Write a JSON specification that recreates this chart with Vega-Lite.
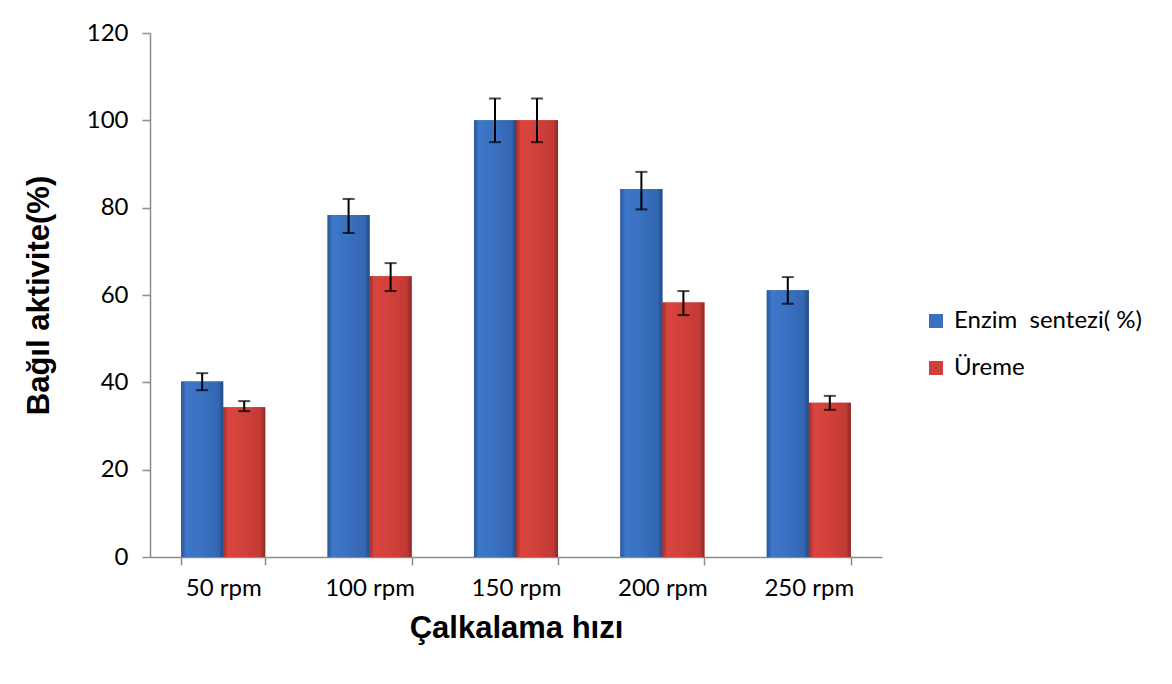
{
  "$schema": "https://vega.github.io/schema/vega-lite/v6.json",
  "width": 732,
  "height": 524,
  "autosize": "none",
  "padding": {"left": 150, "top": 33, "right": 290, "bottom": 127},
  "background": "white",
  "config": {
    "view": {"stroke": null},
    "font": "Lato"
  },
  "data": {
    "values": [
      {"rpm": "50 rpm", "series": "Enzim  sentezi( %)", "value": 40.2, "lo": 38.2, "hi": 42.1},
      {"rpm": "50 rpm", "series": "Üreme", "value": 34.3, "lo": 33.4, "hi": 35.7},
      {"rpm": "100 rpm", "series": "Enzim  sentezi( %)", "value": 78.3, "lo": 74.2, "hi": 82.0},
      {"rpm": "100 rpm", "series": "Üreme", "value": 64.3, "lo": 60.9, "hi": 67.3},
      {"rpm": "150 rpm", "series": "Enzim  sentezi( %)", "value": 100, "lo": 95, "hi": 105},
      {"rpm": "150 rpm", "series": "Üreme", "value": 100, "lo": 95, "hi": 105},
      {"rpm": "200 rpm", "series": "Enzim  sentezi( %)", "value": 84.3, "lo": 79.6, "hi": 88.2},
      {"rpm": "200 rpm", "series": "Üreme", "value": 58.3, "lo": 55.4, "hi": 60.9},
      {"rpm": "250 rpm", "series": "Enzim  sentezi( %)", "value": 61.1, "lo": 58.0, "hi": 64.1},
      {"rpm": "250 rpm", "series": "Üreme", "value": 35.3, "lo": 33.7, "hi": 36.9}
    ]
  },
  "encoding": {
    "x": {
      "field": "rpm",
      "type": "nominal",
      "sort": ["50 rpm", "100 rpm", "150 rpm", "200 rpm", "250 rpm"],
      "scale": {"paddingInner": 0.426, "paddingOuter": 0.213},
      "axis": {
        "title": "Çalkalama hızı",
        "titleFont": "Liberation Sans",
        "titleFontSize": 31,
        "titleFontWeight": "bold",
        "titleColor": "#000000",
        "titlePadding": 13,
        "labelAngle": 0,
        "labelFont": "Lato",
        "labelFontSize": 24,
        "labelColor": "#000000",
        "labelPadding": 11,
        "tickBand": "extent",
        "tickSize": 8,
        "tickColor": "#8c8c8c",
        "tickWidth": 1.5,
        "domainColor": "#8c8c8c",
        "domainWidth": 1.5
      }
    },
    "xOffset": {
      "field": "series",
      "type": "nominal",
      "scale": {"domain": ["Enzim  sentezi( %)", "Üreme"], "paddingInner": 0, "paddingOuter": 0}
    },
    "y": {
      "field": "value",
      "type": "quantitative",
      "scale": {"domain": [0, 120]},
      "axis": {
        "title": "Bağıl aktivite(%)",
        "titleFont": "Liberation Sans",
        "titleFontSize": 31,
        "titleFontWeight": "bold",
        "titleColor": "#000000",
        "titlePadding": 31,
        "values": [0, 20, 40, 60, 80, 100, 120],
        "grid": false,
        "labelFont": "Lato",
        "labelFontSize": 24,
        "labelColor": "#000000",
        "labelPadding": 14,
        "tickSize": 8,
        "tickColor": "#8c8c8c",
        "tickWidth": 1.5,
        "domainColor": "#8c8c8c",
        "domainWidth": 1.5
      }
    }
  },
  "layer": [
    {
      "mark": {"type": "bar"},
      "encoding": {
        "color": {
          "field": "series",
          "type": "nominal",
          "scale": {"domain": ["Enzim  sentezi( %)", "Üreme"], "range": ["#3A6FBF", "#CF3F3B"]},
          "legend": {
            "title": null,
            "orient": "none",
            "legendX": 774,
            "legendY": 276,
            "symbolType": "square",
            "symbolSize": 196,
            "symbolStrokeWidth": 0,
            "labelFont": "Lato",
            "labelFontSize": 24,
            "labelColor": "#000000",
            "labelLimit": 300,
            "labelExpr": "datum.label == 'Enzim  sentezi( %)' ? 'Enzim\u00a0 sentezi( %)' : datum.label",
            "rowPadding": 23,
            "labelOffset": 6
          }
        }
      }
    },
    {
      "transform": [{"filter": "datum.series == 'Enzim  sentezi( %)'"}],
      "mark": {
        "type": "bar",
        "fill": {"gradient": "linear", "x1": 0, "y1": 0, "x2": 1, "y2": 0, "stops": [
          {"offset": 0, "color": "#2A5597"},
          {"offset": 0.12, "color": "#3E78C9"},
          {"offset": 0.5, "color": "#3A70C0"},
          {"offset": 0.88, "color": "#3467B3"},
          {"offset": 1, "color": "#234A85"}
        ]}
      }
    },
    {
      "transform": [{"filter": "datum.series == 'Üreme'"}],
      "mark": {
        "type": "bar",
        "fill": {"gradient": "linear", "x1": 0, "y1": 0, "x2": 1, "y2": 0, "stops": [
          {"offset": 0, "color": "#9E2F2C"},
          {"offset": 0.12, "color": "#D9463F"},
          {"offset": 0.5, "color": "#D1403A"},
          {"offset": 0.88, "color": "#C23A35"},
          {"offset": 1, "color": "#8C2826"}
        ]}
      }
    },
    {
      "mark": {"type": "rule", "color": "#000000", "strokeWidth": 2},
      "encoding": {
        "y": {"field": "lo", "type": "quantitative"},
        "y2": {"field": "hi"}
      }
    },
    {
      "mark": {"type": "tick", "color": "#000000", "thickness": 2, "size": 12, "orient": "horizontal"},
      "encoding": {
        "y": {"field": "lo", "type": "quantitative"}
      }
    },
    {
      "mark": {"type": "tick", "color": "#000000", "thickness": 2, "size": 12, "orient": "horizontal"},
      "encoding": {
        "y": {"field": "hi", "type": "quantitative"}
      }
    }
  ]
}
